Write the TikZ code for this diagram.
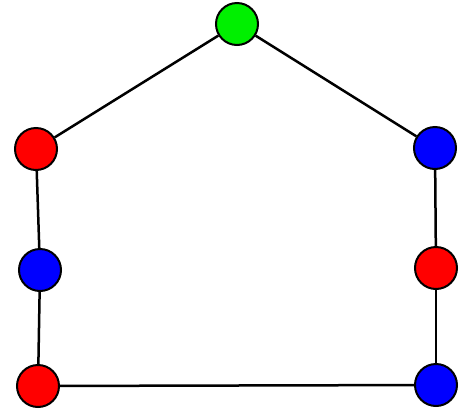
\documentclass[tikz,border=0pt]{standalone}
\begin{document}
\begin{tikzpicture}[x=1pt,y=-1pt,
  vtx/.style={circle,draw=black,line width=2pt,minimum size=42pt,inner sep=0pt},
  edge/.style={draw=black,line width=2.5pt}]
\useasboundingbox (0,0) rectangle (467,416);
\node[vtx,fill={rgb,255:red,0;green,240;blue,0}] (g) at (237,24) {};
\node[vtx,fill=red] (r1) at (36,149) {};
\node[vtx,fill=blue] (b1) at (435,148) {};
\node[vtx,fill=blue] (b2) at (40,270) {};
\node[vtx,fill=red] (r2) at (436,268) {};
\node[vtx,fill=red] (r3) at (38,386) {};
\node[vtx,fill=blue] (b3) at (436,385) {};
\path[edge] (g) -- (r1);
\path[edge] (g) -- (b1);
\path[edge] (r1) -- (b2);
\path[edge] (b2) -- (r3);
\path[edge] (r3) -- (b3);
\path[edge] (b3) -- (r2);
\path[edge] (r2) -- (b1);
\end{tikzpicture}
\end{document}
